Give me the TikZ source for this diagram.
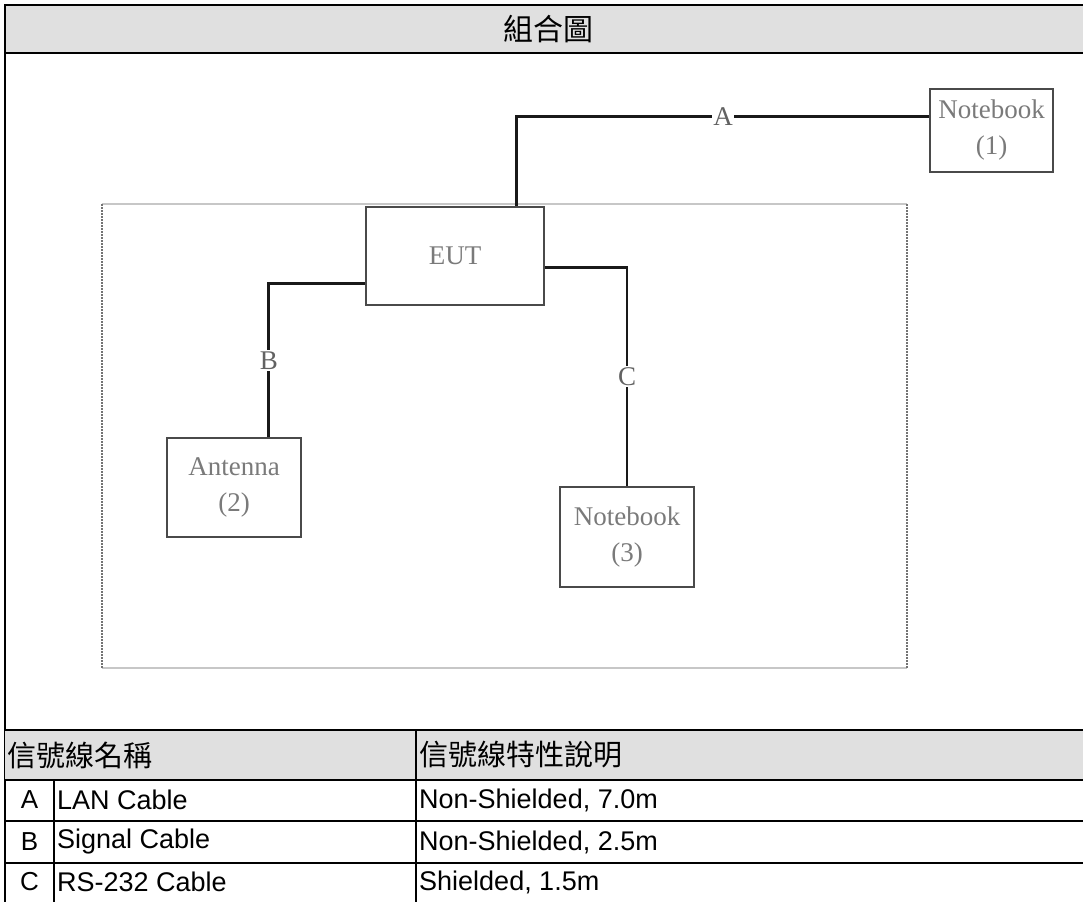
\documentclass[tikz,border=0pt]{standalone}
\usepackage{fontspec}
\setmainfont{Liberation Serif}
\newfontfamily\cjk{Noto Sans CJK TC}
\newfontfamily\tbl{Liberation Sans}
\usetikzlibrary{calc}
\definecolor{hdr}{HTML}{E0E0E0}
\definecolor{lbl}{HTML}{7A7A7A}
\definecolor{edge}{HTML}{4A4A4A}
\tikzset{
  frame/.style={line width=2.6pt, black},
  cable/.style={line width=2.8pt, black!90},
  devbox/.style={draw=edge, line width=1.6pt, inner sep=0pt, align=center,
    text=lbl, font=\fontsize{27}{36}\selectfont},
  cablelbl/.style={fill=white, inner sep=1.5pt, text=lbl!80!black,
    font=\fontsize{27}{30}\selectfont},
  tcell/.style={anchor=west, inner sep=0pt, font=\tbl\fontsize{27}{30}\selectfont},
  tletter/.style={inner sep=0pt, font=\tbl\fontsize{26}{30}\selectfont},
  thead/.style={anchor=west, inner sep=0pt, font=\cjk\fontsize{29}{31}\selectfont},
}
\begin{document}
\begin{tikzpicture}[x=1pt,y=-1pt]
\useasboundingbox (0,0) rectangle (1083,902);
% title bar
\fill[hdr] (5,5) rectangle (1083,53);
\draw[frame] (1083,5) -- (5,5) -- (5,902);
\draw[frame] (5,53) -- (1083,53);
\node[inner sep=0pt, font=\cjk\fontsize{30}{32}\selectfont] (title) at (548,29) {組合圖};

% dotted enclosure
\draw[line width=2.5pt, black!22] (102,204) -- (907,204);
\draw[line width=2.5pt, black!22] (102,668) -- (907,668);
\draw[line width=2pt, black!55, dash pattern=on 1.5pt off 1.5pt] (102,204) -- (102,668);
\draw[line width=2pt, black!55, dash pattern=on 1.5pt off 1.5pt] (907,204) -- (907,668);

% devices
\node[devbox, minimum width=178pt, minimum height=98pt] (eut) at (455,256) {EUT};
\node[devbox, minimum width=123pt, minimum height=83pt] (nb1) at (991.5,130.5) {Notebook\\(1)};
\node[devbox, minimum width=134pt, minimum height=99pt] (ant) at (234,487.5) {Antenna\\(2)};
\node[devbox, minimum width=134pt, minimum height=100pt] (nb3) at (627,537) {Notebook\\(3)};

% cables
\draw[cable] ($(eut.north east)+(-28,0)$) |- ($(nb1.north west)+(0,28)$)
  node[cablelbl, pos=0.75] (la) {A};
\draw[cable] ($(eut.south west)+(0,-22)$) -| ($(ant.north east)+(-33,0)$)
  node[cablelbl, pos=0.75] (lb) {B};
\draw[cable] ($(eut.north east)+(0,61)$) -| (nb3.north)
  node[cablelbl, pos=0.75] (lc) {C};

% table
\fill[hdr] (5,730) rectangle (1083,780);
\draw[frame] (5,730) -- (1083,730);
\draw[frame] (5,780) -- (1083,780);
\draw[frame] (5,821) -- (1083,821);
\draw[frame] (5,863) -- (1083,863);
\draw[frame] (416,730) -- (416,902);
\draw[frame] (54,780) -- (54,902);

\node[thead] (h1) at (7,755) {信號線名稱};
\node[thead] (h2) at (419,755) {信號線特性說明};

\node[tletter] (ka) at (29.5,800) {A};
\node[tcell] (na) at (57,800) {LAN Cable};
\node[tcell] (da) at (419,800) {Non-Shielded, 7.0m};

\node[tletter] (kb) at (29.5,842) {B};
\node[tcell] (nb) at (57,842) {Signal Cable};
\node[tcell] (db) at (419,842) {Non-Shielded, 2.5m};

\node[tletter] (kc) at (29.5,882) {C};
\node[tcell] (nc) at (57,882) {RS-232 Cable};
\node[tcell] (dc) at (419,882) {Shielded, 1.5m};
\end{tikzpicture}
\end{document}
